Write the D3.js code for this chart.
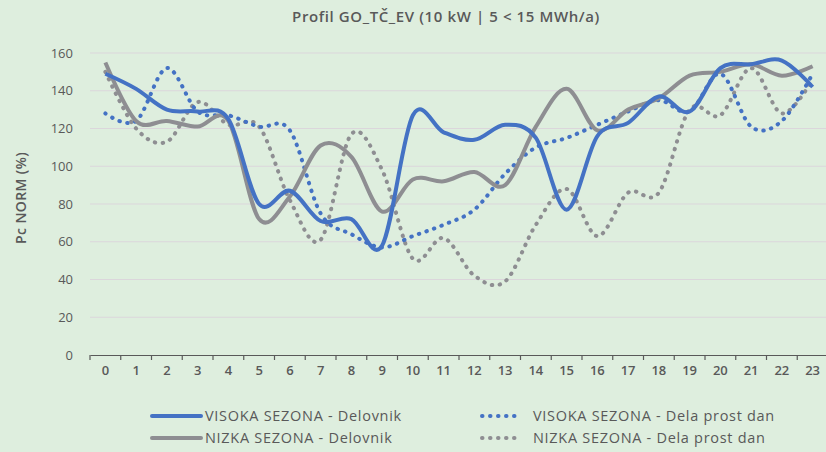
<!DOCTYPE html>
<html>
<head>
<meta charset="utf-8">
<script src="https://cdn.jsdelivr.net/npm/d3@7"></script>
<style>
  html, body { margin: 0; padding: 0; background: #deeede; }
  svg { display: block; }
  text { font-family: "Open Sans", "DejaVu Sans", sans-serif; fill: #595959; }
</style>
</head>
<body>
<svg id="chart" width="826" height="452"></svg>
<script>
const title = "Profil GO_TČ_EV (10 kW | 5 < 15 MWh/a)";
const yAxisTitle = "Pc NORM (%)";
const hours = d3.range(0, 24).map(String);
const yTicks = [0, 20, 40, 60, 80, 100, 120, 140, 160];

const seriesNames = [
  "VISOKA SEZONA - Delovnik",
  "NIZKA SEZONA - Delovnik",
  "VISOKA SEZONA - Dela prost dan",
  "NIZKA SEZONA - Dela prost dan"
];
const visokaDelovnik = [149, 141, 130, 129, 125, 80, 87, 71, 72, 58, 127, 118, 114, 122, 115, 77, 116, 123, 137, 129, 152, 154, 156, 142];
const nizkaDelovnik  = [155, 124, 124, 121, 124, 72, 84, 111, 105, 76, 93, 92, 97, 90, 121, 141, 119, 130, 136, 148, 150, 154, 148, 153];
const visokaProst    = [128, 124, 152, 129, 127, 121, 119, 75, 64, 57, 63, 69, 77, 96, 110, 115, 122, 129, 135, 129, 149, 121, 124, 149];
const nizkaProst     = [150, 120, 113, 134, 122, 121, 82, 61, 117, 98, 51, 62, 42, 39, 69, 88, 63, 86, 86, 130, 127, 152, 128, 146];

const seriesValues = [visokaDelovnik, nizkaDelovnik, visokaProst, nizkaProst];
const seriesColors = ["#4472c4", "#8e8e92", "#4472c4", "#8e8e92"];
const seriesDotted = [false, false, true, true];

const svg = d3.select("#chart");
const margin = { left: 90 };
const plotRight = 828;

const x = d3.scaleBand().domain(hours).range([margin.left, plotRight]).padding(0);
const y = d3.scaleLinear().domain([0, 160]).range([355, 53]);

// title
svg.append("text")
  .attr("x", 446).attr("y", 22)
  .attr("text-anchor", "middle")
  .attr("font-size", 15).attr("font-weight", 600)
  .attr("letter-spacing", 0.6)
  .text(title);

// gridlines
svg.append("g").selectAll("line")
  .data(yTicks.filter(d => d > 0))
  .join("line")
  .attr("x1", margin.left).attr("x2", plotRight)
  .attr("y1", d => y(d)).attr("y2", d => y(d))
  .attr("stroke", "#dbd6db").attr("stroke-width", 1);

// y axis labels
const yAxis = d3.axisLeft(y).tickValues(yTicks).tickSize(0).tickPadding(17);
const gy = svg.append("g").attr("transform", `translate(${margin.left},0)`).call(yAxis);
gy.select(".domain").remove();
gy.selectAll("text").attr("font-size", 13).attr("fill", "#595959")
  .style("font-family", '"Open Sans", "DejaVu Sans", sans-serif');

// x axis
const xAxis = d3.axisBottom(x).tickSize(0).tickPadding(11);
const gx = svg.append("g").attr("transform", `translate(0,${y(0)})`).call(xAxis);
gx.select(".domain").attr("stroke", "#595959").attr("stroke-width", 1.2);
gx.selectAll("text").attr("font-size", 13).attr("font-weight", 600).attr("fill", "#595959")
  .style("font-family", '"Open Sans", "DejaVu Sans", sans-serif');
// boundary tick marks
gx.append("g").selectAll("line")
  .data(hours)
  .join("line")
  .attr("x1", d => x(d)).attr("x2", d => x(d))
  .attr("y1", 0).attr("y2", 5)
  .attr("stroke", "#595959").attr("stroke-width", 1.2);

// y axis title
svg.append("text")
  .attr("transform", `translate(26,${(y(0) + y(160)) / 2 - 6}) rotate(-90)`)
  .attr("text-anchor", "middle")
  .attr("font-size", 14).attr("font-weight", 600)
  .attr("letter-spacing", 0.4)
  .text(yAxisTitle);

// lines
const line = d3.line()
  .x((d, i) => x(hours[i]) + x.bandwidth() / 2)
  .y(d => y(d))
  .curve(d3.curveCardinal.tension(0));

const drawOrder = [3, 2, 1, 0];
const gl = svg.append("g");
drawOrder.forEach(k => {
  gl.append("path")
    .datum(seriesValues[k])
    .attr("d", line)
    .attr("fill", "none")
    .attr("stroke", seriesColors[k])
    .attr("stroke-width", 4)
    .attr("stroke-linecap", seriesDotted[k] ? "round" : "butt")
    .attr("stroke-linejoin", "round")
    .attr("stroke-dasharray", seriesDotted[k] ? "0.5 7.5" : null);
});

// legend
const legendPos = [
  { lx: 152, ty: 416 },
  { lx: 152, ty: 438 },
  { lx: 480, ty: 416 },
  { lx: 480, ty: 438 }
];
const lg = svg.append("g");
seriesNames.forEach((name, k) => {
  const p = legendPos[k];
  const dotted = seriesDotted[k];
  lg.append("line")
    .attr("x1", p.lx + (dotted ? 2 : 0)).attr("x2", p.lx + (dotted ? 40 : 49))
    .attr("y1", p.ty).attr("y2", p.ty)
    .attr("stroke", seriesColors[k]).attr("stroke-width", 4)
    .attr("stroke-linecap", "round")
    .attr("stroke-dasharray", dotted ? "0.5 7.5" : null);
  lg.append("text")
    .attr("x", p.lx + 53).attr("y", p.ty + 5)
    .attr("font-size", 14.5)
    .attr("letter-spacing", 0.7)
    .text(name);
});
</script>
</body>
</html>
